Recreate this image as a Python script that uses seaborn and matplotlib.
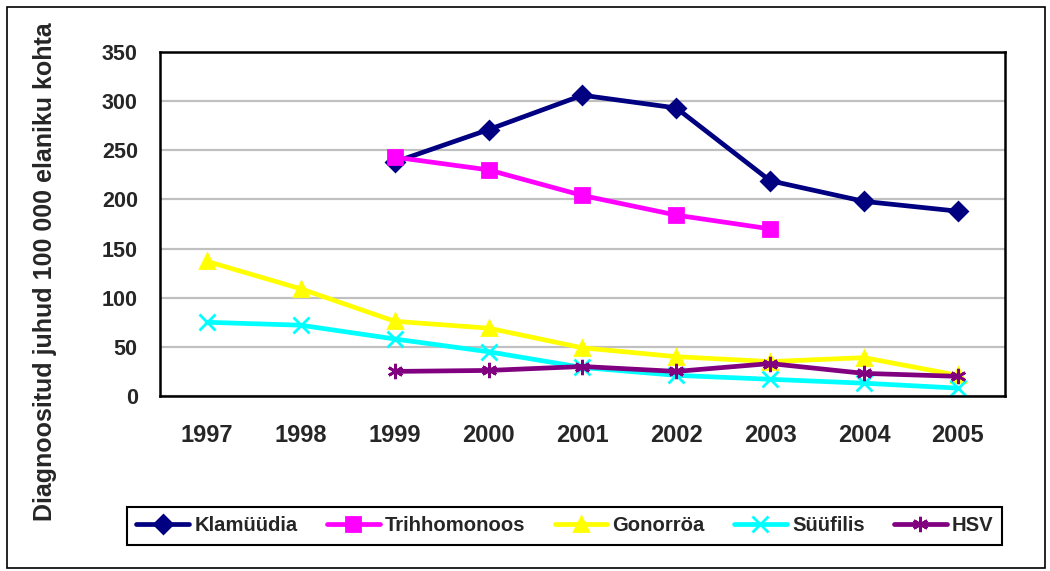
import numpy as np
import pandas as pd
import seaborn as sns
import matplotlib.pyplot as plt
from matplotlib.patches import Rectangle

years = ['1997', '1998', '1999', '2000', '2001', '2002', '2003', '2004', '2005']
klamuudia = [np.nan, np.nan, 238, 271, 306, 293, 219, 198, 188]
trihhomonoos = [np.nan, np.nan, 243, 230, 204, 184, 170, np.nan, np.nan]
gonorroa = [137, 109, 76, 69, 49, 40, 35, 39, 21]
syyfilis = [75, 72, 58, 45, 29, 21, 17, 13, 8]
hsv = [np.nan, np.nan, 25, 26, 30, 25, 33, 23, 20]

names = ['Klamüüdia', 'Trihhomonoos', 'Gonorröa', 'Süüfilis', 'HSV']
colors = ['#000080', '#FF00FF', '#FFFF00', '#00FFFF', '#800080']
markers = ['D', 's', '^', 'x', (6, 2, 0)]
msizes = [9, 10, 10, 11, 11]

sns.set_style('white')
plt.rcParams['font.family'] = ['Liberation Sans', 'DejaVu Sans']
plt.rcParams['font.weight'] = 'bold'

fig = plt.figure(figsize=(10.5, 5.71), dpi=100)
fig.patches.append(Rectangle((0.007, 0.006), 0.988, 0.982, transform=fig.transFigure,
                             fill=False, edgecolor='black', linewidth=1.2))
ax = fig.add_axes([0.1524, 0.3065, 0.8046, 0.6025])

for name, vals, c, m, ms in zip(names, [klamuudia, trihhomonoos, gonorroa, syyfilis, hsv],
                                colors, markers, msizes):
    d = pd.DataFrame({'pos': range(len(years)), 'value': vals}).dropna()
    sns.lineplot(data=d, x='pos', y='value', color=c, marker=m, markersize=ms,
                 markeredgecolor=c, markeredgewidth=2, linewidth=3.4, label=name, ax=ax)

handles, labels = ax.get_legend_handles_labels()
ax.get_legend().remove()
leg = fig.legend(handles, labels, loc='center', bbox_to_anchor=(0.538, 0.079), ncol=5,
                 frameon=True, fancybox=False, edgecolor='black', framealpha=1,
                 prop={'weight': 'bold', 'size': 14.6},
                 handlelength=2.6, columnspacing=1.45, handletextpad=0.25,
                 borderpad=0.45, borderaxespad=0)
leg.get_frame().set_linewidth(1.5)

ax.set_xlim(-0.5, 8.5)
ax.set_ylim(0, 350)
ax.set_yticks(range(0, 351, 50))
ax.set_xticks(np.arange(-0.5, 9, 1))
ax.set_xticklabels([])
ax.set_xticks(range(9), minor=True)
ax.set_xticklabels(years, minor=True)
ax.tick_params(axis='x', which='minor', length=0, pad=20, labelsize=17)
ax.tick_params(axis='x', which='major', length=6, width=1.5, direction='out')
ax.tick_params(axis='y', length=6, width=1.5, direction='out', labelsize=15.5, pad=10)
ax.grid(axis='y', color='#c0c0c0', linewidth=1.6)
ax.set_axisbelow(True)
for s in ax.spines.values():
    s.set_color('black')
    s.set_linewidth(1.8)
ax.set_xlabel('')
ax.set_ylabel('Diagnoositud juhud 100 000 elaniku kohta', fontsize=18, fontweight='bold')
ax.yaxis.set_label_coords(-0.122, 0.36)

fig.savefig('out.png', dpi=100)
